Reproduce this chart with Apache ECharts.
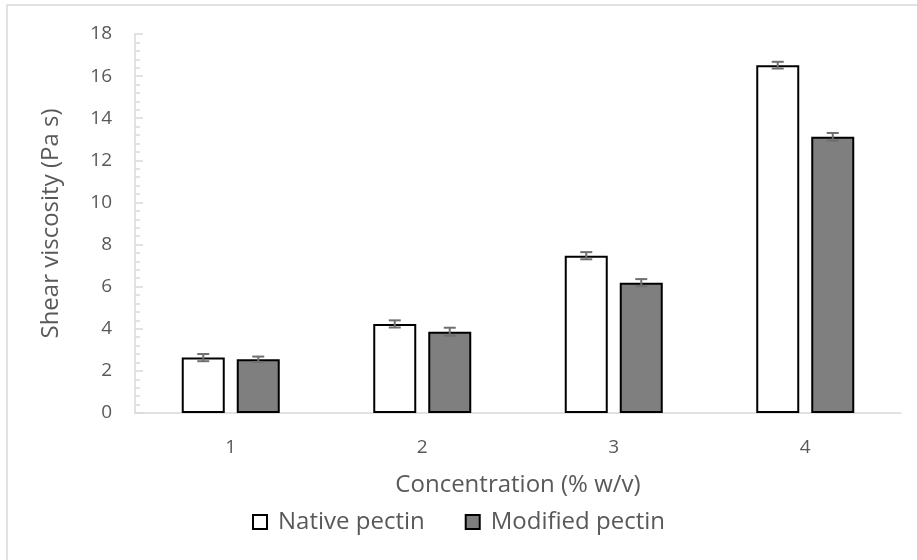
<!DOCTYPE html>
<html><head><meta charset="utf-8">
<script src="https://cdn.jsdelivr.net/npm/echarts@6/dist/echarts.min.js"></script>
<style>html,body{margin:0;padding:0;background:#fff}#c{width:917px;height:560px}</style>
</head><body><div id="c"></div>
<script>
const categories = ['1', '2', '3', '4'];
const nativeValues = [2.63, 4.23, 7.47, 16.52];
const nativeErrors = [0.17, 0.17, 0.17, 0.16];
const modifiedValues = [2.55, 3.86, 6.19, 13.12];
const modifiedErrors = [0.13, 0.19, 0.17, 0.18];
const yTicks = [0, 2, 4, 6, 8, 10, 12, 14, 16, 18];

const FONT = '"Open Sans", sans-serif';
const TXT = '#595959';
const BW = 43, GAP = 12;

function errSeries(name, vals, errs, sign) {
  return {
    type: 'custom', name: name + ' err', silent: true, z: 5,
    data: vals.map((v, i) => [i, v - errs[i], v + errs[i]]),
    renderItem: function (params, api) {
      const i = api.value(0);
      const lo = api.coord([i, api.value(1)]);
      const hi = api.coord([i, api.value(2)]);
      const x = lo[0] + sign * (BW + GAP) / 2;
      const c = 6;
      const st = { stroke: '#6f6f6f', lineWidth: 2 };
      return { type: 'group', children: [
        { type: 'line', shape: { x1: x, y1: lo[1], x2: x, y2: hi[1] }, style: st },
        { type: 'line', shape: { x1: x - c, y1: lo[1], x2: x + c, y2: lo[1] }, style: st },
        { type: 'line', shape: { x1: x - c, y1: hi[1], x2: x + c, y2: hi[1] }, style: st }
      ]};
    }
  };
}

const chart = echarts.init(document.getElementById('c'), null, { renderer: 'canvas' });
chart.setOption({
  backgroundColor: '#fff',
  animation: false,
  graphic: [{ type: 'rect', shape: { x: 7, y: 5, width: 1000, height: 1000 },
    style: { fill: 'none', stroke: '#d9d9d9', lineWidth: 1.5 }, silent: true }],
  grid: { left: 135, right: 16, top: 34, bottom: 147 },
  legend: {
    top: 505, left: 'center', itemWidth: 14, itemHeight: 14, itemGap: 40,
    textStyle: { color: TXT, fontSize: 24, fontFamily: FONT, padding: [0, 0, 0, 6] },
    data: [
      { name: 'Native pectin', icon: 'rect' },
      { name: 'Modified pectin', icon: 'rect' }
    ]
  },
  xAxis: {
    type: 'category', data: categories,
    name: 'Concentration (% w/v)', nameLocation: 'middle', nameGap: 60,
    nameTextStyle: { color: TXT, fontSize: 24, fontFamily: FONT },
    axisLine: { lineStyle: { color: '#d9d9d9', width: 1.5 } },
    axisTick: { show: false },
    axisLabel: { color: TXT, fontSize: 19, fontFamily: FONT, margin: 25 }
  },
  yAxis: {
    type: 'value', min: yTicks[0], max: yTicks[yTicks.length - 1], interval: 2,
    name: 'Shear viscosity (Pa s)', nameLocation: 'middle', nameGap: 72,
    nameTextStyle: { color: TXT, fontSize: 24, fontFamily: FONT },
    axisLine: { show: true, lineStyle: { color: '#d9d9d9', width: 1.5 } },
    axisTick: { show: true, inside: true, length: 8, lineStyle: { color: '#d9d9d9', width: 1.5 } },
    minorTick: { show: true, splitNumber: 5, length: 5, lineStyle: { color: '#d9d9d9', width: 1.5 } },
    splitLine: { show: false },
    axisLabel: { color: TXT, fontSize: 19, fontFamily: FONT, margin: 23 }
  },
  series: [
    { name: 'Native pectin', type: 'bar', data: nativeValues, barWidth: BW, barGap: (GAP / BW * 100) + '%',
      itemStyle: { color: '#ffffff', borderColor: '#000', borderWidth: 2 } },
    { name: 'Modified pectin', type: 'bar', data: modifiedValues, barWidth: BW,
      itemStyle: { color: '#7f7f7f', borderColor: '#000', borderWidth: 2 } },
    errSeries('Native pectin', nativeValues, nativeErrors, -1),
    errSeries('Modified pectin', modifiedValues, modifiedErrors, 1)
  ]
});
</script></body></html>
